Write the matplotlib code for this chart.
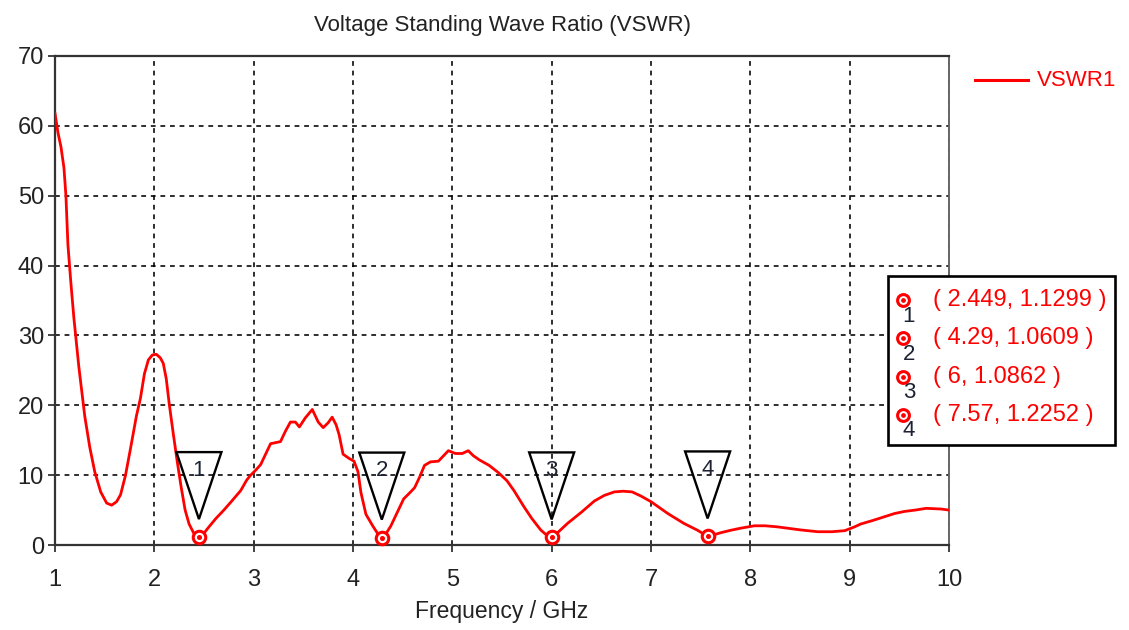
import matplotlib
matplotlib.use("Agg")
import matplotlib.pyplot as plt
import matplotlib.transforms as mtransforms
from matplotlib.lines import Line2D
from matplotlib.patches import Polygon, Rectangle

plt.rcParams["font.family"] = ["Liberation Sans", "DejaVu Sans"]

# VSWR sweep (GHz, ratio)
freq = [1.00, 1.03, 1.06, 1.09, 1.11, 1.13, 1.16, 1.19, 1.24, 1.30,
        1.35, 1.40, 1.46, 1.52, 1.57, 1.62, 1.66, 1.71, 1.76, 1.82,
        1.86, 1.90, 1.94, 1.98, 2.02, 2.06, 2.09, 2.12, 2.15, 2.19,
        2.23, 2.27, 2.31, 2.35, 2.40, 2.449, 2.50, 2.55, 2.62, 2.70,
        2.78, 2.87, 2.93, 2.97, 3.02, 3.07, 3.12, 3.17, 3.27, 3.32,
        3.37, 3.42, 3.46, 3.52, 3.59, 3.65, 3.70, 3.75, 3.79, 3.83,
        3.86, 3.90, 3.96, 4.01, 4.05, 4.08, 4.13, 4.20, 4.25, 4.29,
        4.34, 4.38, 4.44, 4.51, 4.58, 4.62, 4.67, 4.72, 4.78, 4.86,
        4.92, 4.96, 5.03, 5.10, 5.16, 5.21, 5.27, 5.37, 5.46, 5.55,
        5.62, 5.72, 5.80, 5.89, 5.95, 6.00, 6.07, 6.16, 6.30, 6.43,
        6.53, 6.63, 6.72, 6.81, 6.90, 7.00, 7.09, 7.17, 7.25, 7.33,
        7.40, 7.47, 7.57, 7.63, 7.70, 7.80, 7.90, 8.04, 8.15, 8.27,
        8.40, 8.51, 8.68, 8.82, 8.95, 9.05, 9.11, 9.23, 9.35, 9.45,
        9.55, 9.66, 9.77, 9.85, 9.92, 10.00]
vswr = [61.8, 59.0, 57.0, 54.0, 50.0, 43.0, 37.5, 32.5, 25.5, 18.4,
        14.0, 10.5, 7.6, 6.0, 5.7, 6.2, 7.2, 10.0, 13.8, 18.5,
        21.0, 24.5, 26.5, 27.2, 27.3, 26.8, 26.0, 23.8, 20.2, 16.0,
        12.0, 8.3, 5.0, 3.0, 1.6, 1.1299, 1.7, 2.6, 3.8, 5.0,
        6.3, 7.8, 9.3, 10.0, 10.7, 11.5, 13.0, 14.5, 14.8, 16.3,
        17.6, 17.6, 16.9, 18.2, 19.4, 17.6, 16.8, 17.5, 18.3, 17.2,
        15.8, 13.0, 12.4, 12.0, 10.5, 7.5, 4.4, 2.7, 1.6, 1.0609,
        1.8, 2.7, 4.5, 6.6, 7.6, 8.2, 9.7, 11.4, 11.9, 12.0,
        12.9, 13.5, 13.1, 13.1, 13.5, 12.8, 12.2, 11.4, 10.4, 9.2,
        7.8, 5.5, 3.8, 2.15, 1.4, 1.0862, 1.9, 3.1, 4.7, 6.3,
        7.1, 7.6, 7.7, 7.6, 7.0, 6.2, 5.3, 4.5, 3.8, 3.1,
        2.6, 2.1, 1.2252, 1.45, 1.75, 2.1, 2.4, 2.75, 2.75, 2.6,
        2.35, 2.15, 1.9, 1.9, 2.05, 2.6, 3.0, 3.5, 4.05, 4.5,
        4.8, 5.0, 5.25, 5.2, 5.15, 5.0]

marker_freq = [2.449, 4.29, 6.0, 7.57]
marker_vswr = [1.1299, 1.0609, 1.0862, 1.2252]
marker_ids = ["1", "2", "3", "4"]

x_ticks = list(range(1, 11))
y_ticks = list(range(0, 80, 10))

W, H = 1129, 630


def fpos(px, py):
    return px / W, 1 - py / H


fig = plt.figure(figsize=(W / 100, H / 100), dpi=100)
ax = fig.add_axes([55 / W, 85 / H, (949 - 55) / W, (545 - 56) / H])

ax.plot(freq, vswr, color="red", lw=2.0, zorder=3)

ax.set_xlim(1, 10)
ax.set_ylim(0, 70)
ax.set_xticks(x_ticks)
ax.set_yticks(y_ticks)
ax.tick_params(axis="both", direction="out", length=5, width=1.2,
               labelsize=17, colors="#222222")
ax.tick_params(axis="x", pad=12)
ax.tick_params(axis="y", pad=3)
ax.grid(True, color="black", linestyle=(0, (3, 3)), linewidth=1.15)

for side in ["left", "top", "bottom"]:
    ax.spines[side].set_color("#333333")
    ax.spines[side].set_linewidth(1.6)
ax.spines["right"].set_color("#666666")
ax.spines["right"].set_linewidth(1.4)

ax.set_xlabel("Frequency / GHz", fontsize=16.5, labelpad=7, color="#222222")
ax.set_title("Voltage Standing Wave Ratio (VSWR)", fontsize=16, pad=18,
             color="#222222")

# marker circles on the curve
ax.plot(marker_freq, marker_vswr, "o", ms=9, mfc="white", mec="red",
        mew=2.2, zorder=5, clip_on=False)
ax.plot(marker_freq, marker_vswr, "o", ms=2.6, color="red", zorder=6,
        clip_on=False)

# inverted triangle flags above each marker (offsets in inches)
for f, v, mid in zip(marker_freq, marker_vswr, marker_ids):
    trans = fig.dpi_scale_trans + mtransforms.ScaledTranslation(f, v, ax.transData)
    tri = Polygon([(0, 0.18), (-0.225, 0.85), (0.225, 0.85)], closed=True,
                  fill=False, edgecolor="black", lw=1.7, transform=trans,
                  zorder=4, clip_on=False)
    ax.add_patch(tri)
    ax.text(0, 0.67, mid, transform=trans, ha="center", va="center",
            fontsize=16, color="#1c2233", zorder=4)

# legend entry
fig.add_artist(Line2D([975 / W, 1028 / W], [1 - 80 / H] * 2, color="red",
                      lw=2.2, transform=fig.transFigure))
fig.text(*fpos(1037, 80), "VSWR1", color="red", fontsize=16, va="center")

# marker readout box
x0, y0 = fpos(888, 445)
fig.add_artist(Rectangle((x0, y0), (1115 - 888) / W, (445 - 276) / H,
                         transform=fig.transFigure, facecolor="white",
                         edgecolor="black", lw=1.9, zorder=10))
for i, (f, v, mid) in enumerate(zip(marker_freq, marker_vswr, marker_ids)):
    ry = 300 + 38.3 * i
    mx, my = fpos(903, ry)
    fig.add_artist(Line2D([mx], [my], marker="o", ms=8.5, mfc="white",
                          mec="red", mew=2.2, transform=fig.transFigure,
                          zorder=11))
    fig.add_artist(Line2D([mx], [my], marker="o", ms=2.4, color="red",
                          transform=fig.transFigure, zorder=12))
    fig.text(*fpos(909, ry + 16), mid, fontsize=16, color="#1c2233",
             ha="center", va="center", zorder=12)
    fig.text(*fpos(933, ry), f"( {f:g}, {v:.4f} )", fontsize=17,
             color="red", va="center", zorder=12)

fig.savefig("out.png", dpi=100, facecolor="white")
plt.close(fig)
